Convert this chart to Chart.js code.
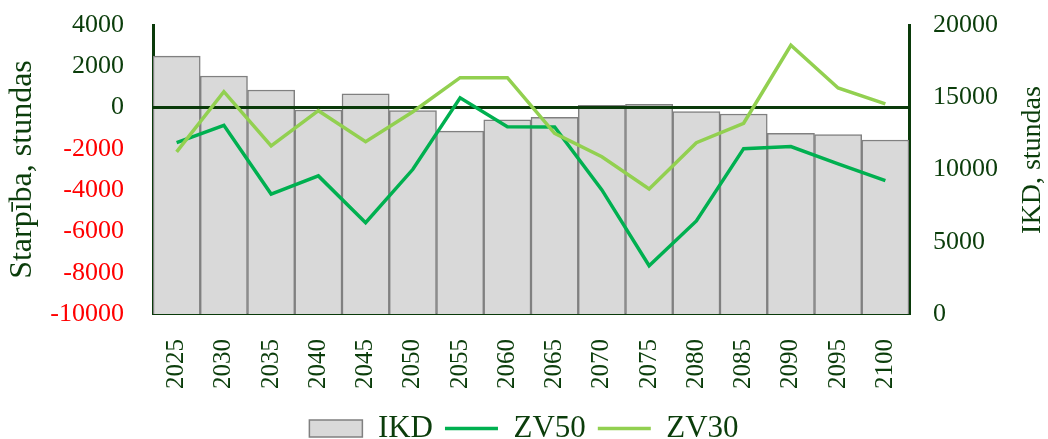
<!DOCTYPE html>
<html>
<head>
<meta charset="utf-8">
<script src="https://cdn.jsdelivr.net/npm/chart.js@4.4.1/dist/chart.umd.min.js"></script>
<style>
  html, body { margin: 0; padding: 0; background: #fff; }
</style>
</head>
<body>
<canvas id="chart" width="1048" height="439"></canvas>
<script>
// Values.
const years = ["2025", "2030", "2035", "2040", "2045", "2050", "2055", "2060",
  "2065", "2070", "2075", "2080", "2085", "2090", "2095", "2100"];
// IKD, hours (right axis, bars)
const ikd = [17850, 16470, 15500, 14120, 15230, 14070, 12660, 13430,
  13610, 14440, 14510, 14000, 13840, 12500, 12410, 12040];
// differences, hours (left axis, lines)
const zv50 = [-1700, -860, -4190, -3310, -5580, -2990, 470, -930,
  -940, -3990, -7660, -5490, -1990, -1890, -2730, -3540];
const zv30 = [-2150, 770, -1860, -150, -1650, -200, 1450, 1450,
  -1250, -2380, -3940, -1700, -760, 3020, 950, 180];

const leftMin = -10000, leftMax = 4000, leftStep = 2000;
const rightMin = 0, rightMax = 20000, rightStep = 5000;

const FONT = "'Liberation Serif', 'Times New Roman', serif";
const TEXT = "#0B3D0B";   // dark green used for labels
const AXIS = "#0A3A0A";   // axis lines and the zero line

// Horizontal line at 0 on the left axis: above the bars, under the two lines.
const zeroLine = {
  id: "zeroLine",
  afterDatasetDraw(chart, args) {
    if (args.index !== 0) return;
    const y = chart.scales.y.getPixelForValue(0);
    const { left, right } = chart.chartArea;
    const ctx = chart.ctx;
    ctx.save();
    ctx.strokeStyle = AXIS;
    ctx.lineWidth = 3;
    ctx.beginPath();
    ctx.moveTo(left, y);
    ctx.lineTo(right, y);
    ctx.stroke();
    ctx.restore();
  },
};

// Chart.js turns a right-hand title to read downwards; the reference reads upwards.
const rightTitle = {
  id: "rightTitle",
  afterDraw(chart) {
    const s = chart.scales.y1;
    const ctx = chart.ctx;
    ctx.save();
    ctx.translate(s.right - 15, 160);
    ctx.rotate(-Math.PI / 2);
    ctx.font = `28px ${FONT}`;
    ctx.fillStyle = TEXT;
    ctx.textAlign = "center";
    ctx.textBaseline = "middle";
    ctx.fillText("IKD, stundas", 0, 0);
    ctx.restore();
  },
};

const plain = (v) => String(v); // no thousands separators

// Fixed axis width; drop the tick padding Chart.js adds above/below the plot.
const fixY = (width) => (s) => {
  s.width = width;
  s.paddingTop = 14;
  s.paddingBottom = 14;
};

new Chart(document.getElementById("chart"), {
  data: {
    labels: years,
    datasets: [
      {
        type: "bar",
        label: "IKD",
        data: ikd,
        yAxisID: "y1",
        backgroundColor: "#D9D9D9",
        borderColor: "#808080",
        borderWidth: 1.5,
        barPercentage: 1,
        categoryPercentage: 1,
        order: 3,
      },
      {
        type: "line",
        label: "ZV50",
        data: zv50,
        yAxisID: "y",
        borderColor: "#00B050",
        backgroundColor: "#00B050",
        borderWidth: 3.5,
        pointRadius: 0,
        tension: 0,
        order: 2,
      },
      {
        type: "line",
        label: "ZV30",
        data: zv30,
        yAxisID: "y",
        borderColor: "#92D050",
        backgroundColor: "#92D050",
        borderWidth: 3.5,
        pointRadius: 0,
        tension: 0,
        order: 1,
      },
    ],
  },
  options: {
    responsive: false,
    animation: false,
    // negative bottom pushes the legend row down to the reference spot
    layout: { padding: { top: 25, left: 0, right: 0, bottom: -15 } },
    plugins: {
      tooltip: { enabled: false },
      legend: {
        position: "bottom",
        labels: {
          font: { family: FONT, size: 31 },
          color: TEXT,
          usePointStyle: true,
          pointStyleWidth: 53,
          boxHeight: 17,
          padding: 12,
          // bar shows as a box, lines as short strokes; keep dataset order
          generateLabels(chart) {
            const items = Chart.defaults.plugins.legend.labels.generateLabels(chart);
            items.sort((a, b) => a.datasetIndex - b.datasetIndex);
            return items.map((it) => ({
              ...it,
              pointStyle: it.datasetIndex === 0 ? "rect" : "line",
            }));
          },
        },
      },
    },
    scales: {
      x: {
        offset: true,
        grid: { display: false },
        border: { display: true, color: AXIS, width: 2 },
        ticks: {
          font: { family: FONT, size: 25 },
          color: TEXT,
          minRotation: 90,
          maxRotation: 90,
          padding: 17,
          autoSkip: false,
        },
        afterFit(s) {
          s.height = 140 - s.chart.legend.height;
        },
      },
      y: {
        position: "left",
        min: leftMin,
        max: leftMax,
        grid: { display: false },
        border: { display: true, color: AXIS, width: 3 },
        ticks: {
          stepSize: leftStep,
          font: { family: FONT, size: 26 },
          color: (ctx) => (ctx.tick.value < 0 ? "#FF0000" : TEXT),
          padding: 21,
          callback: plain,
        },
        title: {
          display: true,
          text: "Starpība, stundas",
          font: { family: FONT, size: 32 },
          color: TEXT,
          padding: { top: 3, bottom: 0 },
        },
        afterFit: fixY(153),
      },
      y1: {
        position: "right",
        min: rightMin,
        max: rightMax,
        grid: { display: false },
        border: { display: true, color: AXIS, width: 3 },
        ticks: {
          stepSize: rightStep,
          font: { family: FONT, size: 26 },
          color: TEXT,
          padding: 16,
          callback: plain,
        },
        afterFit: fixY(139),
      },
    },
  },
  plugins: [zeroLine, rightTitle],
});
</script>
</body>
</html>
